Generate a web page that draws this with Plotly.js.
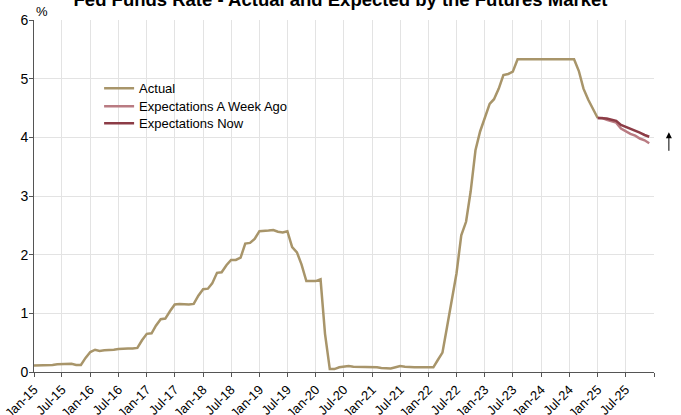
<!DOCTYPE html>
<html>
<head>
<meta charset="utf-8">
<script src="https://cdn.plot.ly/plotly-3.0.1.min.js"></script>
<style>
  html, body { margin: 0; padding: 0; background: #fff; }
  #chart { width: 681px; height: 415px; }
</style>
</head>
<body>
<div id="chart"></div>
<script>
// ---- Data ----
const actualStart = [2015, 1];
const actualValues = [
  // 2015
  0.11, 0.11, 0.11, 0.12, 0.12, 0.13, 0.13, 0.14, 0.14, 0.12, 0.12, 0.24,
  // 2016
  0.34, 0.38, 0.36, 0.37, 0.37, 0.38, 0.39, 0.40, 0.40, 0.40, 0.41, 0.54,
  // 2017
  0.65, 0.66, 0.79, 0.90, 0.91, 1.04, 1.15, 1.16, 1.15, 1.15, 1.16, 1.30,
  // 2018
  1.41, 1.42, 1.51, 1.69, 1.70, 1.82, 1.91, 1.91, 1.95, 2.19, 2.20, 2.27,
  // 2019
  2.40, 2.40, 2.41, 2.42, 2.39, 2.38, 2.40, 2.13, 2.04, 1.83, 1.55, 1.55,
  // 2020
  1.55, 1.58, 0.65, 0.05, 0.05, 0.08, 0.09, 0.10, 0.09, 0.09, 0.09, 0.09,
  // 2021
  0.09, 0.08, 0.07, 0.07, 0.06, 0.08, 0.10, 0.09, 0.08, 0.08, 0.08, 0.08,
  // 2022
  0.08, 0.08, 0.20, 0.33, 0.77, 1.21, 1.68, 2.33, 2.56, 3.08, 3.78, 4.10,
  // 2023
  4.33, 4.57, 4.65, 4.83, 5.06, 5.08, 5.12, 5.33, 5.33, 5.33, 5.33, 5.33,
  // 2024
  5.33, 5.33, 5.33, 5.33, 5.33, 5.33, 5.33, 5.33, 5.13, 4.83, 4.64, 4.48,
  // 2025
  4.33
];
const expStart = [2025, 1];
const expWeekAgo = [4.33, 4.33, 4.30, 4.28, 4.25, 4.15, 4.10, 4.06, 4.03, 3.98, 3.95, 3.90];
const expNow     = [4.33, 4.33, 4.32, 4.30, 4.28, 4.21, 4.18, 4.15, 4.12, 4.08, 4.04, 4.01];

const seriesNames = ["Actual", "Expectations A Week Ago", "Expectations Now"];
const tickDates = ["2015-01-01","2015-07-01","2016-01-01","2016-07-01","2017-01-01","2017-07-01",
  "2018-01-01","2018-07-01","2019-01-01","2019-07-01","2020-01-01","2020-07-01",
  "2021-01-01","2021-07-01","2022-01-01","2022-07-01","2023-01-01","2023-07-01",
  "2024-01-01","2024-07-01","2025-01-01","2025-07-01","2026-01-01"];
const tickLabels = ["Jan-15","Jul-15","Jan-16","Jul-16","Jan-17","Jul-17","Jan-18","Jul-18",
  "Jan-19","Jul-19","Jan-20","Jul-20","Jan-21","Jul-21","Jan-22","Jul-22","Jan-23","Jul-23",
  "Jan-24","Jul-24","Jan-25","Jul-25",""];

// ---- Helpers ----
function monthDates(start, n) {
  const out = [];
  let y = start[0], m = start[1];
  for (let i = 0; i < n; i++) {
    out.push(y + "-" + String(m).padStart(2, "0") + "-01");
    m++; if (m > 12) { m = 1; y++; }
  }
  return out;
}

const FONT = "Arial, 'Liberation Sans', sans-serif";

const traces = [
  { x: monthDates(actualStart, actualValues.length), y: actualValues, name: seriesNames[0],
    type: "scatter", mode: "lines", line: { color: "#A8956A", width: 2.5 }, legend: "legend" },
  { x: monthDates(expStart, expWeekAgo.length), y: expWeekAgo, name: seriesNames[1],
    type: "scatter", mode: "lines", line: { color: "#B97B82", width: 2.5 }, legend: "legend2" },
  { x: monthDates(expStart, expNow.length), y: expNow, name: seriesNames[2],
    type: "scatter", mode: "lines", line: { color: "#8C3C46", width: 2.5 }, legend: "legend3" }
];

function legendAt(y) {
  return {
    x: 0.105, y: y, xanchor: "left", yanchor: "top",
    bgcolor: "rgba(0,0,0,0)", font: { family: FONT, size: 13, color: "#000" }
  };
}

const layout = {
  width: 681, height: 415,
  margin: { l: 34, r: 27, t: 20, b: 43 },
  paper_bgcolor: "#fff", plot_bgcolor: "#fff",
  font: { family: FONT, size: 13, color: "#000" },
  title: {
    text: "<b>Fed Funds Rate - Actual and Expected by the Futures Market</b>",
    font: { family: FONT, size: 18.5, color: "#000" },
    x: 0.5, xref: "container", xanchor: "center",
    y: 1.0, yref: "container", yanchor: "middle"
  },
  showlegend: true,
  legend: legendAt(0.8484),
  legend2: legendAt(0.7972),
  legend3: legendAt(0.7489),
  xaxis: {
    type: "date",
    range: ["2015-01-01", "2026-01-01"],
    tickmode: "array", tickvals: tickDates, ticktext: tickLabels,
    tickangle: -45,
    tickfont: { family: FONT, size: 13, color: "#000" },
    ticks: "outside", ticklen: 4, tickcolor: "#555",
    showline: true, linecolor: "#555", linewidth: 1,
    showgrid: true, gridcolor: "#e3e3e3", gridwidth: 1,
    zeroline: false, fixedrange: true
  },
  yaxis: {
    range: [0, 6], dtick: 1, tick0: 0,
    tickfont: { family: FONT, size: 14, color: "#000" },
    ticks: "outside", ticklen: 4, tickcolor: "#555",
    ticklabelstandoff: -2,
    showline: true, linecolor: "#555", linewidth: 1,
    showgrid: true, gridcolor: "#e3e3e3", gridwidth: 1,
    zeroline: false, fixedrange: true
  },
  annotations: [
    { text: "%", xref: "paper", yref: "paper", x: 0.013, y: 1.023,
      xanchor: "center", yanchor: "middle", showarrow: false,
      font: { family: FONT, size: 13, color: "#000" } },
    { text: "", xref: "paper", yref: "paper", x: 1.024, y: 0.681,
      showarrow: true, ax: 0, ay: 20, arrowhead: 2, arrowsize: 1.2,
      arrowwidth: 1, arrowcolor: "#000" }
  ],
  hovermode: false
};

Plotly.newPlot("chart", traces, layout, { displayModeBar: false, staticPlot: true });
</script>
</body>
</html>
